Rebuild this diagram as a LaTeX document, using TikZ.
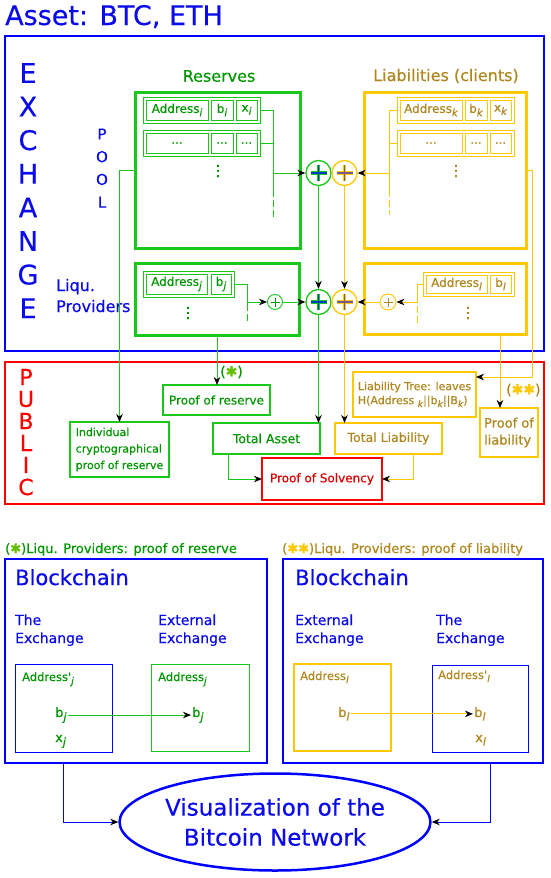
\documentclass[tikz,border=0pt]{standalone}
\usepackage{fontspec}
\usepackage{graphicx}
\setmainfont{DejaVu Sans}[FakeBold=0.4]
\usetikzlibrary{arrows.meta,calc,shapes.geometric}
\definecolor{bl}{RGB}{0,0,255}
\definecolor{btext}{RGB}{10,10,235}
\definecolor{gline}{RGB}{25,200,25}
\definecolor{gtext}{RGB}{0,150,0}
\definecolor{yline}{RGB}{255,200,0}
\definecolor{ytext}{RGB}{175,135,30}
\definecolor{rline}{RGB}{255,0,0}
\definecolor{rtext}{RGB}{215,0,0}
\definecolor{astg}{RGB}{100,190,0}
\definecolor{pblue}{RGB}{0,60,200}
\definecolor{ppurp}{RGB}{120,90,140}
\newcommand\fs[2]{\fontsize{#1}{#2}\selectfont}
\newcommand\sbx[1]{\raisebox{-0.28em}{\scalebox{0.85}{\itshape #1}}}
\newcommand\mkbox[7]{\node[#1, minimum width={(#4-#2)*1pt}, minimum height={(#5-#3)*1pt}] (#6) at ({(#2+#4)/2},{(#3+#5)/2}) {#7};}
\newcommand\bigplus[3]{%
  \draw[line width=3.4pt, #2] ($(#1)+(-8,0)$) -- ($(#1)+(8,0)$) ($(#1)+(0,-8)$) -- ($(#1)+(0,8)$);
  \draw[line width=1.6pt, #3] ($(#1)+(-8,0)$) -- ($(#1)+(8,0)$) ($(#1)+(0,-8)$) -- ($(#1)+(0,8)$);}
\newcommand\smallplus[2]{%
  \draw[line width=1pt, #2] ($(#1)+(-4.5,0)$) -- ($(#1)+(4.5,0)$) ($(#1)+(0,-4.5)$) -- ($(#1)+(0,4.5)$);}
\begin{document}
\begin{tikzpicture}[x=1pt, y=-1pt,
  bx/.style={draw, inner sep=0pt, outer sep=0pt},
  cellbox/.style={bx, draw=gline, line width=0.9pt, text=gtext, font=\fs{12}{14}},
  ycellbox/.style={bx, draw=yline, line width=0.9pt, text=ytext, font=\fs{12}{14}},
  gbox/.style={bx, draw=gline, line width=2.5pt, text=gtext},
  ybox/.style={bx, draw=yline, line width=2.5pt, text=ytext},
  gconn/.style={draw=gline, line width=1pt},
  yconn/.style={draw=yline, line width=1pt},
  bconn/.style={draw=bl, line width=1pt},
  arr/.style={-{Stealth[length=8pt, width=6.5pt, inset=2.5pt, color=black, fill=black]}},
  gdash/.style={gconn, dash pattern=on 7pt off 3pt},
  ydash/.style={yconn, dash pattern=on 7pt off 3pt},
  lbl/.style={inner sep=0pt, anchor=base west},
  pc/.style={circle, inner sep=0pt, fill=white, line width=1.3pt},
  vd/.style={inner sep=0pt, font=\fs{15}{16}}
]
\fill[white] (0,0) rectangle (550,878);
\useasboundingbox (0,0) rectangle (550,878);

% title
\node[lbl, text=btext, font=\fs{27}{32}] (title) at (5,25) {Asset: BTC, ETH};

% EXCHANGE
\mkbox{bx, draw=bl, line width=2pt}{5}{36}{544}{351}{exch}{}
\foreach \L [count=\i] in {E,X,C,H,A,N,G,E}
  \node[text=btext, font=\fs{27}{30}, inner sep=0pt] (ex\i) at (28,{73+(\i-1)*33.6}) {\L};
\foreach \L [count=\i] in {P,O,O,L}
  \node[text=btext, font=\fs{15}{18}, inner sep=0pt] (po\i) at (102,{134+(\i-1)*22.7}) {\L};
\node[lbl, text=btext, font=\fs{16}{21}] (lp1) at (56,291) {Liqu.};
\node[lbl, text=btext, font=\fs{16}{21}] (lp2) at (56,312) {Providers};

\node[text=gtext, font=\fs{16}{19}] (restitle) at (219,76) {Reserves};
\node[text=ytext, font=\fs{16}{19}] (liatitle) at (446,76) {Liabilities (clients)};

% reserves upper
\mkbox{bx, draw=gline, line width=3pt}{135}{92}{300}{248}{res}{}
\mkbox{bx, draw=gline, line width=0.9pt}{143}{97}{260}{123}{r1}{}
\mkbox{cellbox}{146}{100}{208}{120}{r1a}{Address\sbx{i}}
\mkbox{cellbox}{211}{100}{233}{120}{r1b}{b\sbx{i}}
\mkbox{cellbox}{236}{100}{257}{120}{r1c}{x\sbx{i}}
\mkbox{bx, draw=gline, line width=0.9pt}{143}{130}{260}{156}{r2}{}
\mkbox{cellbox}{146}{133}{208}{153}{r2a}{...}
\mkbox{cellbox}{211}{133}{233}{153}{r2b}{...}
\mkbox{cellbox}{236}{133}{257}{153}{r2c}{...}
\node[vd, text=gtext] (rdots) at (218,171) {⋮};

% liabilities upper
\mkbox{bx, draw=yline, line width=3pt}{364}{92}{526}{248}{lia}{}
\mkbox{bx, draw=yline, line width=0.9pt}{397}{97}{514}{123}{l1}{}
\mkbox{ycellbox}{400}{100}{462}{120}{l1a}{Address\sbx{k}}
\mkbox{ycellbox}{465}{100}{487}{120}{l1b}{b\sbx{k}}
\mkbox{ycellbox}{490}{100}{511}{120}{l1c}{x\sbx{k}}
\mkbox{bx, draw=yline, line width=0.9pt}{397}{130}{514}{156}{l2}{}
\mkbox{ycellbox}{400}{133}{462}{153}{l2a}{...}
\mkbox{ycellbox}{465}{133}{487}{153}{l2b}{...}
\mkbox{ycellbox}{490}{133}{511}{153}{l2c}{...}
\node[vd, text=ytext] (ldots) at (456,171) {⋮};

% reserves lower
\mkbox{bx, draw=gline, line width=3pt}{135}{263}{299}{335}{lres}{}
\mkbox{bx, draw=gline, line width=0.9pt}{143}{271}{234}{297}{lr1}{}
\mkbox{cellbox}{146}{274}{207}{294}{lr1a}{Address\sbx{j}}
\mkbox{cellbox}{211}{274}{231}{294}{lr1b}{b\sbx{j}}
\node[vd, text=gtext] (lrdots) at (188,313) {⋮};

% liabilities lower
\mkbox{bx, draw=yline, line width=3pt}{364}{263}{526}{334}{llia}{}
\mkbox{bx, draw=yline, line width=0.9pt}{423}{272}{514}{296}{ll1}{}
\mkbox{ycellbox}{426}{275}{487}{293}{ll1a}{Address\sbx{l}}
\mkbox{ycellbox}{490}{275}{511}{293}{ll1b}{b\sbx{l}}
\node[vd, text=ytext] (lldots) at (468,313) {⋮};

% plus circles
\node[pc, draw=gline, minimum size=25pt] (gp1) at (318.5,173) {};
\node[pc, draw=yline, minimum size=25pt] (yp1) at (344.5,173) {};
\node[pc, draw=gline, minimum size=25pt] (gp2) at (318.5,302) {};
\node[pc, draw=yline, minimum size=25pt] (yp2) at (344.5,302) {};
\node[pc, draw=gline, minimum size=15pt, line width=0.9pt] (gs) at (275,302) {};
\node[pc, draw=yline, minimum size=16pt, line width=0.9pt] (ys) at (388,302) {};
\bigplus{gp1}{gline}{pblue}
\bigplus{gp2}{gline}{pblue}
\bigplus{yp1}{yline}{ppurp}
\bigplus{yp2}{yline}{ppurp}
\smallplus{gs}{gtext}
\smallplus{ys}{ytext}

% exchange connectors
\draw[gconn] (r1.east) -- ++(13,0) coordinate (rv) -- ++(0,80);
\draw[gdash] ($(rv)+(0,80)$) -- ++(0,27);
\draw[gconn] (r2.east) -- (r2.east -| rv);
\draw[gconn, arr] (gp1.west -| rv) -- (gp1.west);

\draw[yconn] (l1.west) -- ++(-8,0) coordinate (lv) -- ++(0,80);
\draw[ydash] ($(lv)+(0,80)$) -- ++(0,25);
\draw[yconn] (l2.west) -- (l2.west -| lv);
\draw[yconn, arr] (yp1.east -| lv) -- (yp1.east);

\draw[gconn] (lr1.east) -- ++(13,0) coordinate (lrv) -- ++(0,20);
\draw[gdash] ($(lrv)+(0,20)$) -- ++(0,20);
\draw[gconn, arr] (gs.west -| lrv) -- (gs.west);
\draw[gconn, arr] (gs.east) -- (gp2.west);

\draw[yconn] (ll1.west) -- ++(-6,0) coordinate (llv) -- ++(0,12);
\draw[ydash] ($(llv)+(0,12)$) -- ++(0,28);
\draw[yconn, arr] (ys.east -| llv) -- (ys.east);
\draw[yconn, arr] (ys.west) -- (yp2.east);

\draw[gconn, arr] (gp1.south) -- (gp2.north);
\draw[yconn, arr] (yp1.south) -- (yp2.north);

% PUBLIC
\mkbox{bx, draw=rline, line width=2pt}{5}{362}{544}{504}{pub}{}
\foreach \L/\yy [count=\i] in {P/377,U/399,B/421,L/443,I/465,C/487}
  \node[text=rline, font=\fs{22}{26}, inner sep=0pt] (pu\i) at (26,\yy) {\L};

\mkbox{gbox, font=\fs{12}{14}}{163}{385}{270}{415}{por}{Proof of reserve}
\node[anchor=west, inner sep=0pt, font=\fs{14}{16}] (ast1) at (220,372) {\textcolor{gtext}{(}\textcolor{astg}{✱}\textcolor{gtext}{)}};
\mkbox{gbox, font=\fs{11}{16.5}, align=left}{70}{422}{169}{477}{indiv}{Individual\\cryptographical\\proof of reserve}
\mkbox{gbox, font=\fs{12.5}{15}}{213}{423}{320}{454}{ta}{Total Asset}
\mkbox{bx, draw=rline, line width=2.5pt, text=rtext, font=\fs{12}{14}}{262}{458}{382}{500}{pos}{Proof of Solvency}
\mkbox{ybox, font=\fs{12.5}{15}}{335}{423}{442}{454}{tl}{Total Liability}
\mkbox{ybox, font=\fs{11}{14}, align=left}{353}{372}{476}{417}{ltree}{Liability Tree: leaves\\H(Address \sbx{k}||b\sbx{k}||B\sbx{k})}
\node[anchor=west, inner sep=0pt, font=\fs{14}{16}] (ast2) at (506,390) {\textcolor{ytext}{(}\textcolor{yline}{✱✱}\textcolor{ytext}{)}};
\mkbox{ybox, font=\fs{13}{17}, align=left}{480}{408}{538}{457}{pol}{Proof of\\liability}

% public connectors
\draw[gconn, arr] (res.west) -| (indiv.north);
\draw[gconn, arr] (lres.south) -- (lres.south |- por.north);
\draw[gconn, arr] (gp2.south) -- (gp2.south |- ta.north);
\draw[yconn, arr] (yp2.south) -- (yp2.south |- tl.north);
\draw[gconn, arr] ($(ta.south west)+(15,0)$) |- (pos.west);
\draw[yconn, arr] ($(tl.south east)+(-29,0)$) |- (pos.east);
\draw[yconn, arr] (lia.east) -- ++(6,0) |- ($(ltree.north east)+(0,5)$);
\coordinate (pl) at ($(llia.south east)+(-26,0)$);
\draw[yconn, arr] (pl) -- (pl |- pol.north);

% bottom left
\node[lbl, font=\fs{13}{15}] (lpt1) at (5,553) {\textcolor{gtext}{(}\textcolor{astg}{✱}\textcolor{gtext}{)Liqu. Providers: proof of reserve}};
\mkbox{bx, draw=bl, line width=2.5pt}{5}{559}{267}{763}{bcl}{}
\node[lbl, text=btext, font=\fs{21}{25}] (bct1) at (15,585) {Blockchain};
\node[lbl, text=btext, font=\fs{14}{18}] (th1) at (15,625) {The};
\node[lbl, text=btext, font=\fs{14}{18}] (ex1a) at (15,643) {Exchange};
\node[lbl, text=btext, font=\fs{14}{18}] (ext1) at (158,625) {External};
\node[lbl, text=btext, font=\fs{14}{18}] (ex1b) at (158,643) {Exchange};
\mkbox{bx, draw=bl, line width=1pt}{15}{664}{112}{752}{ib1}{}
\mkbox{bx, draw=gline, line width=1pt}{151}{664}{249}{751}{ig1}{}
\node[lbl, text=gtext, font=\fs{11.5}{13}] (ad1) at (22,681) {Address\textquotesingle\sbx{j}};
\node[anchor=base west, inner sep=1pt, text=gtext, font=\fs{13}{15}] (bj1) at (54,717) {b\sbx{j}};
\node[lbl, text=gtext, font=\fs{13}{15}] (xj1) at (55,742) {x\sbx{j}};
\node[lbl, text=gtext, font=\fs{11.5}{13}] (ad2) at (158,681) {Address\sbx{j}};
\node[anchor=base west, inner sep=1pt, text=gtext, font=\fs{13}{15}] (bj2) at (191,717) {b\sbx{j}};
\draw[gconn, arr] (bj1.east) -- (bj2.west);

% bottom right
\node[lbl, font=\fs{13}{15}] (lpt2) at (282,553) {\textcolor{ytext}{(}\textcolor{yline}{✱✱}\textcolor{ytext}{)Liqu. Providers: proof of liability}};
\mkbox{bx, draw=bl, line width=2.5pt}{283}{559}{543}{763}{bcr}{}
\node[lbl, text=btext, font=\fs{21}{25}] (bct2) at (295,585) {Blockchain};
\node[lbl, text=btext, font=\fs{14}{18}] (ext2) at (295,625) {External};
\node[lbl, text=btext, font=\fs{14}{18}] (ex2a) at (295,643) {Exchange};
\node[lbl, text=btext, font=\fs{14}{18}] (th2) at (436,625) {The};
\node[lbl, text=btext, font=\fs{14}{18}] (ex2b) at (436,643) {Exchange};
\mkbox{bx, draw=yline, line width=1.2pt}{294}{664}{391}{751}{iy2}{}
\mkbox{bx, draw=bl, line width=1pt}{432}{665}{528}{752}{ib2}{}
\node[lbl, text=ytext, font=\fs{11.5}{13}] (ad3) at (300,680) {Address\sbx{l}};
\node[anchor=base west, inner sep=1pt, text=ytext, font=\fs{13}{15}] (bl1) at (337,717) {b\sbx{l}};
\node[lbl, text=ytext, font=\fs{11.5}{13}] (ad4) at (438,679) {Address\textquotesingle\sbx{l}};
\node[anchor=base west, inner sep=1pt, text=ytext, font=\fs{13}{15}] (bl2) at (473,717) {b\sbx{l}};
\node[lbl, text=ytext, font=\fs{13}{15}] (xl2) at (475,742) {x\sbx{l}};
\draw[yconn, arr] (bl1.east) -- (bl2.west);

% ellipse
\node[ellipse, draw=bl, line width=2.5pt, minimum width=276pt, minimum height=97pt, inner sep=0pt, text=btext, font=\fs{23}{30}, align=center] (ell) at (275,822) {Visualization of the\\Bitcoin Network};
\draw[bconn, arr] ($(bcl.south west)+(58,0)$) |- (ell.west);
\draw[bconn, arr] ($(bcr.south east)+(-53,0)$) |- (ell.east);
\end{tikzpicture}
\end{document}
